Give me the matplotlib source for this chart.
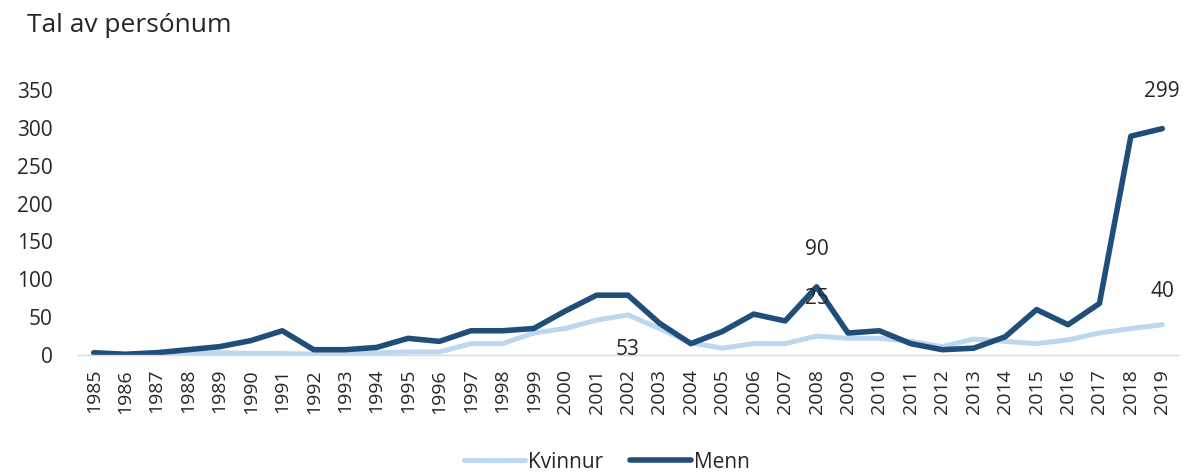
import matplotlib
matplotlib.use("Agg")
import matplotlib.pyplot as plt

years = [str(y) for y in range(1985, 2020)]
kvinnur = [1, 0, 1, 2, 3, 2, 2, 1, 2, 3, 4, 4, 15, 15, 29, 35, 46, 53, 35, 16,
           9, 15, 15, 25, 22, 22, 18, 11, 21, 18, 15, 20, 29, 35, 40]
menn = [3, 1, 3, 7, 11, 19, 32, 7, 7, 10, 22, 18, 32, 32, 35, 58, 79, 79, 42, 15,
        31, 54, 45, 90, 29, 32, 15, 7, 9, 24, 60, 40, 68, 289, 299]
yticks = [0, 50, 100, 150, 200, 250, 300, 350]

plt.rcParams['font.family'] = ['Open Sans', 'DejaVu Sans']
light = '#BDD7EE'
dark = '#1F4E79'
txt = '#262626'

fig = plt.figure(figsize=(11.85, 4.75), dpi=100)
ax = fig.add_axes([78/1185, 1-355/475, 1100/1185, 265/475])
x = list(range(len(years)))
ax.plot(x, kvinnur, color=light, lw=3.6, label='Kvinnur', solid_capstyle='round', solid_joinstyle='round')
ax.plot(x, menn, color=dark, lw=4.0, label='Menn', solid_capstyle='round', solid_joinstyle='round')

ax.set_xlim(-0.5, len(years) - 0.5)
ax.set_ylim(0, 350)
ax.set_yticks(yticks)
ax.set_yticklabels([str(v) for v in yticks], fontsize=15, color=txt)
ax.set_xticks(x)
ax.set_xticklabels(years, rotation=90, fontsize=14, color=txt)
ax.tick_params(axis='both', length=0)
ax.tick_params(axis='y', pad=18)
ax.tick_params(axis='x', pad=10)
for s in ['top', 'right', 'left']:
    ax.spines[s].set_visible(False)
ax.spines['bottom'].set_color('#D9D9D9')
ax.spines['bottom'].set_linewidth(1)

def lab(i, series, dy):
    ax.annotate(str(series[i]), (i, series[i]), xytext=(0, dy), textcoords='offset points',
                ha='center', va='center', fontsize=15, color=txt)

lab(years.index('2019'), menn, 27)
lab(years.index('2008'), menn, 27)
lab(years.index('2008'), kvinnur, 27)
lab(years.index('2002'), kvinnur, -25)
lab(years.index('2019'), kvinnur, 24)

fig.text(27/1185, 1-26/475, 'Tal av persónum', fontsize=19, color=txt, va='center', ha='left')

fig.legend(loc='center', bbox_to_anchor=(607/1185, 1-462/475), ncol=2, frameon=False,
           fontsize=15, handlelength=2.9, handletextpad=0.15, columnspacing=1.3,
           labelcolor=txt)

fig.savefig('out.png', dpi=100, facecolor='white')
